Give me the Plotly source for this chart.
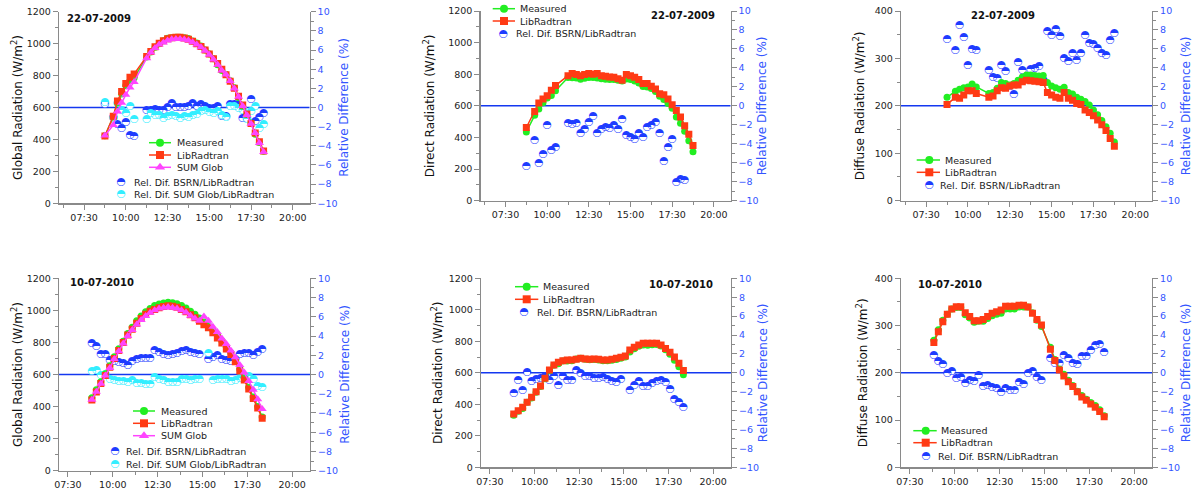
import plotly.graph_objects as go

W, H = 1193, 491
FONT = "DejaVu Sans"

# ---------------- time stamps ----------------
TIMES_2009 = ["08:45", "09:15", "09:30", "09:45", "10:00", "10:15", "10:30",
              "11:15", "11:30", "11:45", "12:00", "12:15", "12:30", "12:45",
              "13:00", "13:15", "13:30", "13:45", "14:00", "14:15", "14:30",
              "14:45", "15:00", "15:15", "15:30", "15:45", "16:00", "16:15",
              "16:30", "16:45", "17:00", "17:15", "17:30", "17:45", "18:00",
              "18:15", "18:30", "18:45"]
TIMES_2009_GLOBAL = TIMES_2009[:36]
TIMES_2010 = ["08:50", "09:05", "09:20", "09:35", "09:50", "10:05", "10:20",
              "10:35", "10:50", "11:05", "11:20", "11:35", "11:50", "12:05",
              "12:20", "12:35", "12:50", "13:05", "13:20", "13:35", "13:50",
              "14:05", "14:20", "14:35", "14:50", "15:05", "15:20", "15:35",
              "15:50", "16:05", "16:20", "16:35", "16:50", "17:05", "17:20",
              "17:35", "17:50", "18:05", "18:20"]
XTICK_LABELS = ["07:30", "10:00", "12:30", "15:00", "17:30", "20:00"]

# ---------------- 22-07-2009 ----------------
GLOB09_MEAS = [423, 540, 628, 685, 738, 767, 786, 917, 948, 978, 1000, 1018, 1034,
               1037, 1040, 1040, 1037, 1032, 1017, 1004, 985, 960, 935, 906, 867,
               832, 807, 768, 723, 662, 608, 556, 503, 433, 381, 326]
GLOB09_LIB = [421, 545, 640, 700, 750, 790, 810, 920, 950, 980, 1002, 1018, 1030,
              1037, 1040, 1040, 1036, 1028, 1015, 1000, 982, 960, 935, 905, 875,
              840, 805, 765, 720, 670, 615, 560, 500, 440, 385, 328]
GLOB09_SUM = [425, 490, 575, 630, 680, 725, 760, 909, 944, 972, 994, 1007, 1020,
              1028, 1029, 1029, 1026, 1020, 1008, 995, 978, 956, 930, 901, 868,
              832, 806, 766, 719, 668, 610, 553, 498, 440, 377, 322]
GLOB09_RD_BSRN = [0.3, -1.0, -1.8, -2.2, -1.6, -2.9, -3.0, -0.3, -0.25, -0.2, -0.25,
                  -0.25, 0.0, 0.4, 0.0, 0.0, 0.0, 0.1, 0.4, 0.15, 0.35, 0.15, -0.1,
                  -0.1, 0.1, -0.9, -0.9, 0.3, 0.35, 0.35, -1.1, -1.1, 0.8, -1.5,
                  -1.0, -0.6]
GLOB09_RD_SUM = [0.5, -1.1, 0.4, -0.3, -0.6, 0.1, -1.2, -1.2, -0.6, -0.8, -0.8,
                 -1.1, -0.95, -0.8, -0.9, -1.1, -0.95, -1.0, -0.8, -0.7, -0.45,
                 -0.3, -0.55, -0.6, -0.45, -0.8, -1.0, 0.1, 0.15, -0.1, -0.3,
                 -1.2, -0.45, 0.1, -2.2, -1.8]

DIR09_MEAS = [435, 540, 580, 620, 650, 665, 695, 780, 778, 776, 768, 775, 780, 780,
              776, 772, 768, 766, 766, 762, 757, 770, 766, 757, 745, 722, 720, 710,
              690, 660, 640, 615, 585, 530, 490, 440, 380, 310]
DIR09_LIB = [463, 565, 618, 643, 664, 698, 728, 791, 804, 798, 791, 798, 804, 800,
             804, 791, 787, 783, 781, 772, 762, 798, 791, 781, 766, 741, 741, 724,
             707, 677, 671, 643, 607, 571, 529, 474, 421, 349]
DIR09_RD = [-6.4, -3.65, -6.1, -5.1, -2.1, -4.7, -4.4, -1.9, -2.0, -1.9, -2.9, -2.5,
            -1.7, -1.1, -2.9, -2.5, -2.3, -2.4, -2.1, -2.5, -1.4, -3.1, -3.3, -3.5,
            -2.9, -3.3, -2.3, -2.1, -1.7, -2.9, -5.9, -4.4, -3.5, -8.1, -7.7, -7.9,
            None, None]

DIF09_MEAS = [218, 231, 235, 238, 240, 246, 240, 226, 228, 237, 249, 247, 244, 247,
              254, 261, 265, 265, 264, 263, 264, 249, 242, 238, 235, 239, 228, 225,
              218, 214, 209, 202, 191, 181, 169, 156, 142, 124]
DIF09_LIB = [203, 218, 216, 223, 232, 232, 226, 218, 221, 232, 238, 237, 242, 244,
             244, 251, 254, 253, 252, 251, 249, 228, 223, 218, 216, 228, 216, 212,
             205, 203, 191, 186, 179, 170, 160, 148, 131, 115]
DIF09_RD = [7.0, 5.8, 8.5, 7.2, 4.3, 6.0, 5.8, 3.7, 3.0, 2.9, 4.3, 3.6, 2.1, 1.2,
            4.6, 3.7, 3.0, 3.8, 3.95, 4.2, 2.7, 7.9, 7.4, 8.1, 7.3, 5.0, 4.7, 5.5,
            4.8, 5.5, 7.4, 6.6, 6.5, 6.1, 5.5, 5.3, 6.9, 7.6]

# ---------------- 10-07-2010 ----------------
GLOB10_MEAS = [455, 505, 555, 605, 655, 710, 760, 808, 855, 895, 935, 965, 992, 1012,
               1030, 1040, 1046, 1050, 1048, 1042, 1030, 1015, 995, 975, 952, 928,
               905, 875, 845, 810, 770, 735, 690, 635, 578, 520, 460, 400, 335]
GLOB10_LIB = [441, 491, 544, 593, 645, 700, 750, 799, 847, 883, 920, 949, 975, 995,
              1005, 1017, 1024, 1029, 1026, 1020, 1006, 991, 973, 954, 932, 910,
              891, 860, 828, 797, 759, 725, 679, 622, 566, 509, 451, 391, 327]
GLOB10_SUM = [442, 493, 543, 593, 641, 696, 745, 793, 840, 878, 912, 940, 965, 985,
              1001, 1011, 1017, 1021, 1017, 1012, 1000, 986, 967, 949, 936, 962,
              935, 898, 865, 825, 790, 750, 708, 660, 612, 560, 505, 445, 385]
GLOB10_RD_BSRN = [3.2, 2.9, 2.1, 2.1, 1.5, 1.4, 1.3, 1.15, 1.0, 1.35, 1.6, 1.7, 1.7,
                  1.7, 2.5, 2.27, 2.1, 2.0, 2.1, 2.2, 2.37, 2.47, 2.27, 2.2, 2.1,
                  None, 1.6, 1.78, 2.0, 1.57, 1.5, 1.33, 1.57, 2.1, 2.2, 2.2, 2.0,
                  2.27, 2.6]
GLOB10_RD_SUM = [0.3, 0.4, -0.1, 0.0, -0.55, -0.6, -0.7, -0.75, -0.85, -0.6, -0.9,
                 -0.9, -1.0, -1.0, -0.35, -0.55, -0.65, -0.8, -0.85, -0.8, -0.55,
                 -0.55, -0.65, -0.55, -0.55, None, 2.2, -0.65, -0.55, -0.5, -0.55,
                 -0.7, -0.65, -0.4, -0.3, -0.2, -0.55, -1.2, -1.3]

DIR10_MEAS = [331, 356, 374, 413, 440, 477, 513, 563, 613, 648, 658, 675, 675, 676,
              688, 692, 686, 683, 684, 682, 677, 677, 680, 685, 693, 700, 732, 752,
              769, 776, 775, 778, 780, 770, 747, 718, 680, 639, 588]
DIR10_LIB = [338, 359, 381, 413, 444, 480, 516, 565, 618, 650, 667, 677, 681, 681,
             686, 692, 688, 686, 688, 686, 681, 681, 686, 692, 698, 707, 745, 762,
             776, 787, 787, 787, 787, 776, 755, 730, 700, 660, 615]
DIR10_RD = [-2.17, -0.83, -1.89, 0.0, -0.94, -0.66, -0.59, -0.41, -0.83, -0.34,
            -1.29, -0.34, -0.83, -0.76, 0.23, -0.06, -0.34, -0.41, -0.59, -0.59,
            -0.52, -0.66, -0.94, -1.04, -0.66, None, -1.82, -1.29, -0.94, -1.4,
            -1.47, -1.11, -0.94, -0.76, -1.04, -1.71, -2.77, -3.16, -3.65]

DIF10_MEAS = [269, 291, 311, 324, 335, 338, 338, 323, 316, 307, 309, 309, 315, 321,
              324, 326, 335, 335, 335, 339, 339, 339, 327, 311, 298, None, 254, 228,
              208, 197, 184, 173, 161, 152, 144, 137, 131, 122, 109]
DIF10_LIB = [264, 287, 308, 324, 335, 340, 340, 327, 319, 310, 310, 313, 319, 326,
             329, 333, 341, 341, 341, 343, 343, 339, 326, 313, 301, None, 250, 226,
             206, 193, 181, 171, 160, 149, 142, 134, 127, 118, 107]
DIF10_RD = [1.8, 1.23, 0.9, -0.07, 0.1, -0.56, -0.5, -1.1, -0.8, -0.95, -0.25, -1.4,
            -1.3, -1.5, -1.65, -2.05, -1.7, -1.85, -1.85, -1.05, -1.2, -0.07, 0.18,
            -0.5, -0.85, None, 1.5, 1.05, 1.05, 1.87, 1.5, 1.05, 0.88, 1.76, 1.7,
            2.4, 2.86, 3.03, 2.15]

# ---------------- styles ----------------
GREEN = "#22EE22"
RED = "#FF3A14"
MAGENTA = "#FF44FF"
BLUE = "#1E3CFF"
CYAN = "#33EEFF"
AXBLUE = "#3355FF"
ZEROBLUE = "#1438F0"
GRAY = "#8A8A8A"
GLYPH = "\u25D3"

CURVE_STYLE = {
    "Measured": dict(color=GREEN, symbol="circle", size=7),
    "LibRadtran": dict(color=RED, symbol="square", size=7),
    "SUM Glob": dict(color=MAGENTA, symbol="triangle-up", size=8),
}
RD_STYLE = {
    "Rel. Dif. BSRN/LibRadtran": BLUE,
    "Rel. Dif. SUM Glob/LibRadtran": CYAN,
}


def hrs(t):
    h, m = t.split(":")
    return int(h) + int(m) / 60.0


PANELS = [
    dict(date="22-07-2009", ytitle="Global Radiation (W/m<sup>2</sup>)",
         yr=[0, 1200], dt=200, xr=[6, 21], t=TIMES_2009_GLOBAL,
         curves=[("Measured", GLOB09_MEAS), ("LibRadtran", GLOB09_LIB), ("SUM Glob", GLOB09_SUM)],
         rds=[("Rel. Dif. BSRN/LibRadtran", GLOB09_RD_BSRN), ("Rel. Dif. SUM Glob/LibRadtran", GLOB09_RD_SUM)],
         box=(59, 309.5, 11.7, 203.3), so=(1, 3), datepos=(99.3, 18.3),
         leg=dict(lx=(149, 171), mx=160, tx=175.5, ly=[142.7, 155, 167.3], gx=121, gtx=133, gy=[182, 194.3])),
    dict(date="22-07-2009", ytitle="Direct Radiation (W/m<sup>2</sup>)",
         yr=[0, 1200], dt=200, xr=[6, 21], t=TIMES_2009,
         curves=[("Measured", DIR09_MEAS), ("LibRadtran", DIR09_LIB)],
         rds=[("Rel. Dif. BSRN/LibRadtran", DIR09_RD)],
         box=(480.5, 730.5, 11, 200.7), so=(11, 0), datepos=(682.7, 16),
         leg=dict(lx=(492.7, 515), mx=504, tx=519, ly=[8.7, 21], gx=503.3, gtx=515, gy=[34])),
    dict(date="22-07-2009", ytitle="Diffuse Radiation (W/m<sup>2</sup>)",
         yr=[0, 400], dt=100, xr=[6, 21], t=TIMES_2009,
         curves=[("Measured", DIF09_MEAS), ("LibRadtran", DIF09_LIB)],
         rds=[("Rel. Dif. BSRN/LibRadtran", DIF09_RD)],
         box=(901, 1152, 11, 200.7), so=(7, 5), datepos=(1002.7, 15),
         leg=dict(lx=(916.7, 940), mx=929.3, tx=944, ly=[160, 172.3], gx=929.3, gtx=939.3, gy=[185.3])),
    dict(date="10-07-2010", ytitle="Global Radiation (W/m<sup>2</sup>)",
         yr=[0, 1200], dt=200, xr=[7, 21], t=TIMES_2010,
         curves=[("Measured", GLOB10_MEAS), ("LibRadtran", GLOB10_LIB), ("SUM Glob", GLOB10_SUM)],
         rds=[("Rel. Dif. BSRN/LibRadtran", GLOB10_RD_BSRN), ("Rel. Dif. SUM Glob/LibRadtran", GLOB10_RD_SUM)],
         box=(59, 310, 278.3, 470.7), so=(1, 3), datepos=(101.7, 282.7),
         leg=dict(lx=(133, 155), mx=144, tx=160, ly=[411, 423.3, 435.7], gx=115, gtx=125, gy=[451, 464.3])),
    dict(date="10-07-2010", ytitle="Direct Radiation (W/m<sup>2</sup>)",
         yr=[0, 1200], dt=200, xr=[7, 21], t=TIMES_2010,
         curves=[("Measured", DIR10_MEAS), ("LibRadtran", DIR10_LIB)],
         rds=[("Rel. Dif. BSRN/LibRadtran", DIR10_RD)],
         box=(481, 731, 278.3, 467.3), so=(3, 0), datepos=(681, 284.3),
         leg=dict(lx=(515, 538.3), mx=526.7, tx=541.7, ly=[286.7, 299.3], gx=524, gtx=535.7, gy=[312.3])),
    dict(date="10-07-2010", ytitle="Diffuse Radiation (W/m<sup>2</sup>)",
         yr=[0, 400], dt=100, xr=[7, 21], t=TIMES_2010,
         curves=[("Measured", DIF10_MEAS), ("LibRadtran", DIF10_LIB)],
         rds=[("Rel. Dif. BSRN/LibRadtran", DIF10_RD)],
         box=(901, 1152, 278.3, 467.3), so=(4, 5), datepos=(950, 284),
         leg=dict(lx=(913.3, 936.7), mx=925.7, tx=940, ly=[430.7, 442.7], gx=926, gtx=936.7, gy=[456.7])),
]

fig = go.Figure()
layout = dict(
    width=W, height=H, autosize=False,
    margin=dict(l=0, r=0, t=0, b=0, autoexpand=False),
    paper_bgcolor="white", plot_bgcolor="rgba(0,0,0,0)",
    font=dict(family=FONT, size=9.5, color="#222222"),
    showlegend=False,
)
shapes = []
annotations = []


def rd_trace(x, y, color, xa, ya, size=10.5):
    pts = [(a, b) for a, b in zip(x, y) if b is not None]
    return go.Scatter(
        x=[a for a, _ in pts], y=[b for _, b in pts], xaxis=xa, yaxis=ya,
        mode="markers+text", text=GLYPH, textposition="middle center",
        textfont=dict(family=FONT, size=size, color=color),
        marker=dict(size=6, color="white", line=dict(width=0)),
        hoverinfo="skip", cliponaxis=False,
    )


for p, P in enumerate(PANELS):
    n = p + 1
    xname = "x" if n == 1 else f"x{n}"
    xkey = "xaxis" if n == 1 else f"xaxis{n}"
    rd_id, rad_id = 2 * p + 1, 2 * p + 2
    rdname = "y" if rd_id == 1 else f"y{rd_id}"
    rdkey = "yaxis" if rd_id == 1 else f"yaxis{rd_id}"
    radname, radkey = f"y{rad_id}", f"yaxis{rad_id}"
    x0, x1, yt, yb = P["box"]
    xs = [hrs(t) for t in P["t"]]

    layout[xkey] = dict(
        domain=[x0 / W, x1 / W], anchor=rdname, range=P["xr"],
        tickmode="array", tickvals=[hrs(t) for t in XTICK_LABELS], ticktext=XTICK_LABELS,
        ticks="outside", ticklen=5, tickcolor=GRAY, tickwidth=1,
        showline=True, linecolor=GRAY, linewidth=1.2, showgrid=False, zeroline=False,
        minor=dict(tickmode="linear", tick0=7.5, dtick=1.25, ticks="outside", ticklen=3, tickcolor=GRAY),
        tickfont=dict(size=9.5, color="#222222"), automargin=False, fixedrange=True,
    )
    layout[rdkey] = dict(
        domain=[1 - yb / H, 1 - yt / H], anchor=xname, side="right", range=[-10, 10],
        tickmode="linear", tick0=-10, dtick=2,
        ticks="outside", ticklen=5, tickcolor=GRAY, tickwidth=1,
        showline=True, linecolor=GRAY, linewidth=1.2, showgrid=False, zeroline=False,
        minor=dict(tickmode="linear", tick0=-10, dtick=1, ticks="outside", ticklen=3, tickcolor=GRAY),
        tickfont=dict(size=9.5, color=AXBLUE),
        title=dict(text="Relative Difference (%)", font=dict(size=12, color=AXBLUE), standoff=P["so"][1]),
        automargin=False, fixedrange=True,
    )
    layout[radkey] = dict(
        overlaying=rdname, anchor=xname, side="left", range=P["yr"],
        tickmode="linear", tick0=0, dtick=P["dt"],
        ticks="outside", ticklen=5, tickcolor=GRAY, tickwidth=1,
        showline=True, linecolor=GRAY, linewidth=1.2, showgrid=False, zeroline=False,
        minor=dict(tickmode="linear", tick0=0, dtick=P["dt"] / 2, ticks="outside", ticklen=3, tickcolor=GRAY),
        tickfont=dict(size=9.5, color="#222222"),
        title=dict(text=P["ytitle"], font=dict(size=12, color="#111111"), standoff=P["so"][0]),
        automargin=False, fixedrange=True,
    )

    # zero line of the relative-difference axis
    shapes.append(dict(type="line", xref=f"{xname} domain", yref=rdname,
                       x0=0, x1=1, y0=0, y1=0, layer="below",
                       line=dict(color=ZEROBLUE, width=1.5)))

    # relative differences (right axis)
    for name, vals in P["rds"]:
        fig.add_trace(rd_trace(xs, vals, RD_STYLE[name], xname, rdname))

    # radiation curves (left axis, drawn on top)
    for name, vals in P["curves"]:
        st = CURVE_STYLE[name]
        fig.add_trace(go.Scatter(
            x=xs, y=vals, xaxis=xname, yaxis=radname, mode="lines+markers",
            name=name, connectgaps=True,
            line=dict(color=st["color"], width=1.5),
            marker=dict(symbol=st["symbol"], size=st["size"], color=st["color"], line=dict(width=0)),
            hoverinfo="skip",
        ))

    annotations.append(dict(text=f"<b>{P['date']}</b>", x=P["datepos"][0] / W, y=1 - P["datepos"][1] / H,
                            xref="paper", yref="paper", xanchor="center", yanchor="middle",
                            showarrow=False, font=dict(size=10, color="#111111")))

    # ---- in-panel legend (drawn on a pixel overlay axis) ----
    L = P["leg"]
    for (name, _), ly in zip(P["curves"], L["ly"]):
        st = CURVE_STYLE[name]
        fig.add_trace(go.Scatter(x=list(L["lx"]), y=[ly, ly], xaxis="x7", yaxis="y13",
                                 mode="lines", line=dict(color=st["color"], width=1.5), hoverinfo="skip"))
        fig.add_trace(go.Scatter(x=[L["mx"]], y=[ly], xaxis="x7", yaxis="y13", mode="markers",
                                 marker=dict(symbol=st["symbol"], size=st["size"] + 1, color=st["color"],
                                             line=dict(width=0)), hoverinfo="skip"))
        annotations.append(dict(text=name, x=L["tx"] / W, y=1 - ly / H, xref="paper", yref="paper",
                                xanchor="left", yanchor="middle", showarrow=False, borderpad=0,
                                font=dict(size=9.5, color="#222222")))
    for (name, _), gy in zip(P["rds"], L["gy"]):
        fig.add_trace(rd_trace([L["gx"]], [gy], RD_STYLE[name], "x7", "y13"))
        annotations.append(dict(text=name, x=L["gtx"] / W, y=1 - gy / H, xref="paper", yref="paper",
                                xanchor="left", yanchor="middle", showarrow=False, borderpad=0,
                                font=dict(size=9.5, color="#222222")))

layout["xaxis7"] = dict(domain=[0, 1], range=[0, W], anchor="y13", visible=False, fixedrange=True)
layout["yaxis13"] = dict(domain=[0, 1], range=[H, 0], anchor="x7", visible=False, fixedrange=True)
layout["shapes"] = shapes
layout["annotations"] = annotations
fig.update_layout(**layout)

fig.write_html("out.html", config={"staticPlot": True},
               post_script="document.body.style.margin='0px';document.body.style.padding='0px';")
